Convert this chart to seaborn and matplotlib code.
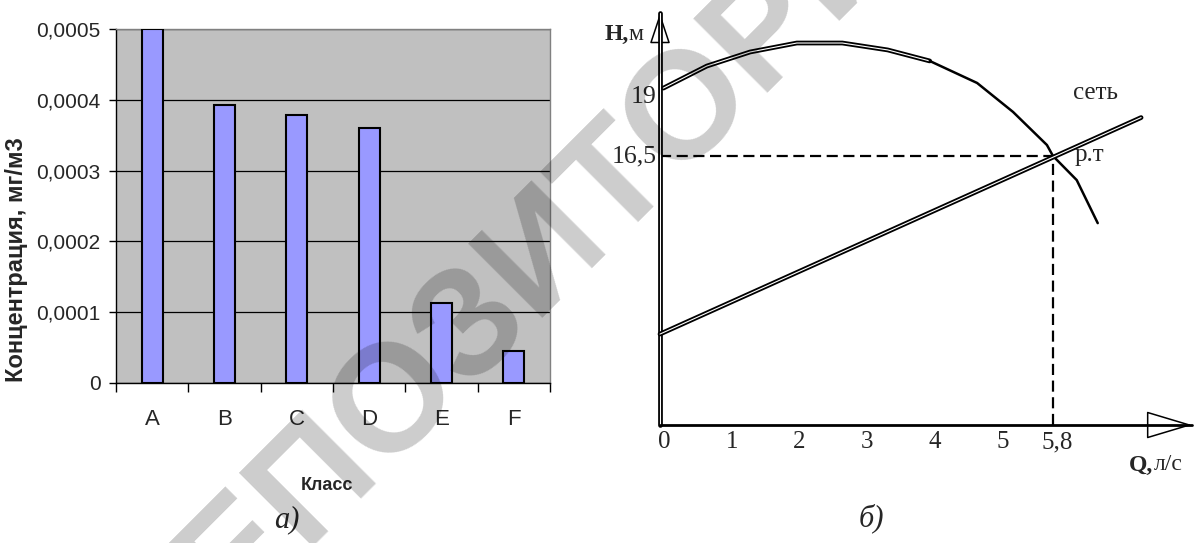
import numpy as np
import matplotlib
matplotlib.use("Agg")
import matplotlib.pyplot as plt
import matplotlib.patheffects as pe
import seaborn as sns

# --- (а) concentration by class ---
classes = ["A", "B", "C", "D", "E", "F"]
concentration = [0.0005, 0.000393, 0.000378, 0.00036, 0.000113, 0.000045]
conc_ticks = [0, 0.0001, 0.0002, 0.0003, 0.0004, 0.0005]
conc_labels = ["0", "0,0001", "0,0002", "0,0003", "0,0004", "0,0005"]

# --- (б) pump head curve and network curve, Q in l/s, H in m ---
pump_q = [0.05, 0.69, 1.33, 2.02, 2.69, 3.36, 3.98, 4.68, 5.21, 5.71, 5.80, 6.15, 6.46]
pump_h = [19.15, 20.01, 20.56, 20.91, 20.91, 20.64, 20.21, 19.35, 18.22, 16.93, 16.50, 15.56, 13.88]
net_q = [0.0, 7.1]
net_h = [9.55, 18.0]
work_q, work_h = 5.8, 16.5
q_ticks = [0, 1, 2, 3, 4, 5, 5.8]
q_labels = ["0", "1", "2", "3", "4", "5", "5,8"]
h_marks = [18.8, 16.5]
h_labels = ["19", "16,5"]
h_origin = 6.0

W, H = 1195, 543
sans = "Liberation Sans"
serif = "Liberation Serif"

sns.set_style("white")
plt.rcParams["font.family"] = [sans, "DejaVu Sans"]

fig = plt.figure(figsize=(W / 100, H / 100), dpi=100)

# ---------------- left: bar chart ----------------
ax1 = fig.add_axes([116 / W, 1 - 383 / H, 434 / W, 354 / H])
sns.barplot(x=classes, y=concentration, ax=ax1, color="#9999ff", saturation=1,
            width=0.29, edgecolor="black", linewidth=1.5, zorder=3)
ax1.set_facecolor("#c0c0c0")
ax1.set_xlim(-0.5, 5.5)
ax1.set_ylim(0, 0.0005)
ax1.set_yticks(conc_ticks, conc_labels)
ax1.yaxis.grid(True, color="black", linewidth=0.9)
ax1.xaxis.grid(False)
ax1.set_axisbelow(True)
ax1.set_xlabel("")
ax1.set_ylabel("")
ax1.set_xticks(np.arange(-0.5, 6, 1), minor=True)
ax1.tick_params(axis="x", which="major", length=0, pad=19, labelsize=16)
ax1.tick_params(axis="x", which="minor", length=6.5, width=1, color="black", bottom=True)
ax1.tick_params(axis="y", length=5, width=1, pad=6, labelsize=15, color="black", left=True)
for side in ["left", "bottom"]:
    ax1.spines[side].set_color("black")
    ax1.spines[side].set_linewidth(1)
for side in ["top", "right"]:
    ax1.spines[side].set_color("#808080")
    ax1.spines[side].set_linewidth(1)

fig.text(17 / W, 1 - 260 / H, "Концентрация, мг/м3", rotation=90, ha="center", va="center",
         fontsize=17, fontweight="bold", family=sans)
fig.text(327 / W, 1 - 485 / H, "Класс", ha="center", va="center",
         fontsize=13, fontweight="bold", family=sans)

# ---------------- right: Q-H schematic ----------------
q_px, h_px = 67.76, 25.62          # pixels per unit
ax2 = fig.add_axes([600 / W, 0, 595 / W, 1])
ax2.set_xlim((600 - 660) / q_px, (W - 660) / q_px)
ax2.set_ylim(work_h - (H - 156) / h_px, work_h + 156 / h_px)
ax2.axis("off")

double = [pe.Stroke(linewidth=3.4, foreground="black"), pe.Normal()]
y_top = work_h + 143 / h_px
x_end = (1192 - 660) / q_px

# arrow heads (hollow triangles)
ax2.annotate("", xy=(0, y_top), xytext=(0, y_top - 27 / h_px),
             arrowprops=dict(arrowstyle="-|>,head_length=1.95,head_width=0.65",
                             fc="white", ec="black", lw=1.1, shrinkA=0, shrinkB=0))
ax2.annotate("", xy=(x_end, h_origin), xytext=(x_end - 42 / q_px, h_origin),
             arrowprops=dict(arrowstyle="-|>,head_length=3.0,head_width=0.9",
                             fc="white", ec="black", lw=1.1, shrinkA=0, shrinkB=0))

# axes lines
ax2.plot([0, 0], [h_origin, y_top], color="white", lw=0.8, path_effects=double, zorder=4)
ax2.plot([0, x_end], [h_origin, h_origin], color="black", lw=2, zorder=4)

# operating point guides
ax2.plot([0, work_q], [work_h, work_h], color="black", lw=1.6, ls=(0, (5, 2.5)), zorder=3)
ax2.plot([work_q, work_q], [h_origin, work_h], color="black", lw=1.6, ls=(0, (5, 2.5)), zorder=3)

# pump curve: double line at start, plain afterwards
sns.lineplot(x=pump_q[:7], y=pump_h[:7], ax=ax2, sort=False, estimator=None,
             color="white", lw=0.8, path_effects=double, zorder=5)
sns.lineplot(x=pump_q[6:], y=pump_h[6:], ax=ax2, sort=False, estimator=None,
             color="black", lw=1.8, zorder=5)
# network curve
sns.lineplot(x=net_q, y=net_h, ax=ax2, sort=False, estimator=None,
             color="white", lw=0.8, path_effects=double, zorder=5)

for q, lab in zip(q_ticks, q_labels):
    ax2.text(q + 0.06, h_origin - 0.68, lab, ha="center", va="center",
             fontsize=18, family=serif)
for hv, lab in zip(h_marks, h_labels):
    ax2.text(-0.05, hv, lab, ha="right", va="center", fontsize=18.5, family=serif)

ax2.text(-0.46, work_h + 122 / h_px, "H,", ha="right", va="center", fontsize=17,
         fontweight="bold", family=serif)
ax2.text(-0.46, work_h + 122 / h_px, "м", ha="left", va="center", fontsize=17, family=serif)
ax2.text(7.28, work_h - 309 / h_px, "Q,", ha="right", va="center", fontsize=17,
         fontweight="bold", family=serif)
ax2.text(7.28, work_h - 309 / h_px, "л/с", ha="left", va="center", fontsize=17, family=serif)
ax2.text(6.09, work_h + 63 / h_px, "сеть", ha="left", va="center", fontsize=18, family=serif)
ax2.text(6.12, work_h + 0.05, "р.т", ha="left", va="center", fontsize=18, family=serif)

fig.text(287 / W, 1 - 520 / H, "а)", ha="center", va="center", fontsize=22,
         style="italic", family=serif)
fig.text(871 / W, 1 - 518 / H, "б)", ha="center", va="center", fontsize=22,
         style="italic", family=serif)

# repository watermark
fig.text(545 / W, 1 - 250 / H, "РЕПОЗИТОРИЙ", rotation=45, rotation_mode="anchor",
         ha="center", va="center", fontsize=110, fontweight="bold", family=sans,
         color="black", alpha=0.2, zorder=10)

fig.savefig("out.png", dpi=100)
